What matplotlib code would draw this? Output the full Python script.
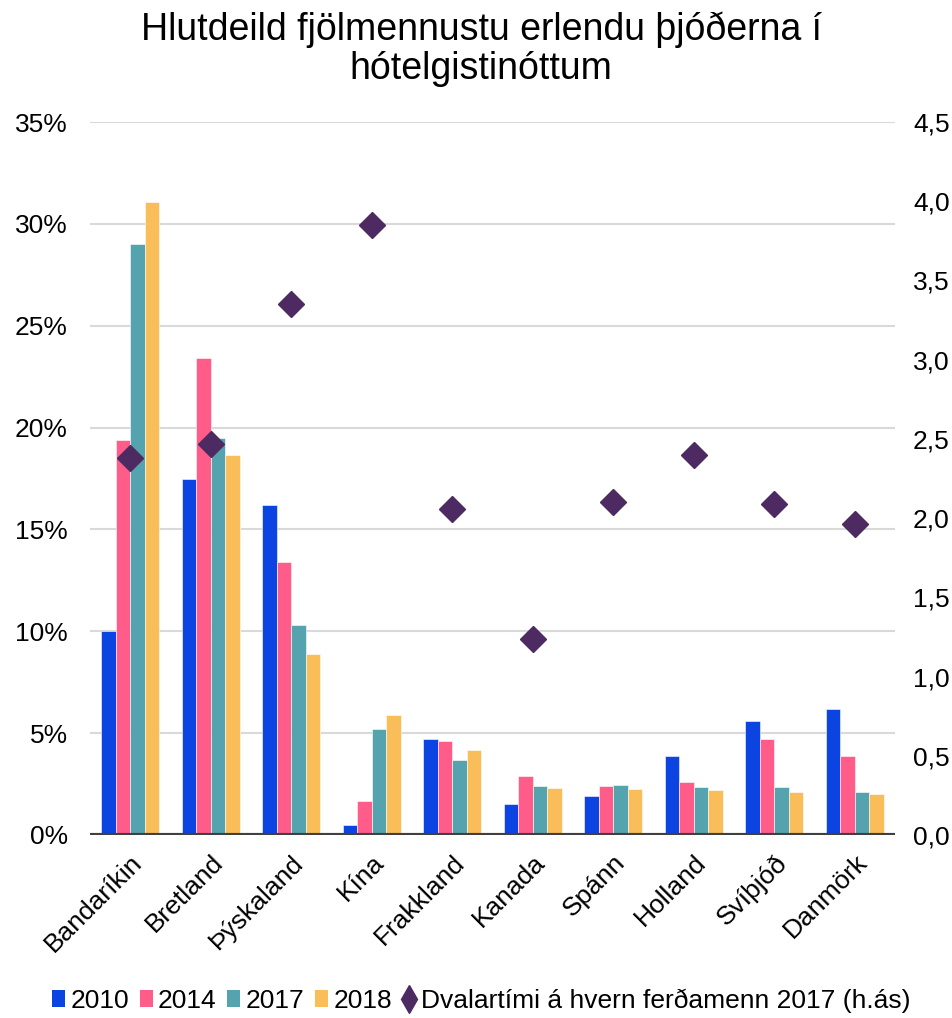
import matplotlib
matplotlib.use("Agg")
import matplotlib.pyplot as plt
import numpy as np
from matplotlib.ticker import FuncFormatter
from matplotlib.lines import Line2D
from matplotlib.patches import Patch

plt.rcParams['font.family'] = ['Liberation Sans', 'DejaVu Sans']

categories = ["Bandaríkin", "Bretland", "Þýskaland", "Kína", "Frakkland",
              "Kanada", "Spánn", "Holland", "Svíþjóð", "Danmörk"]
v2010 = [10.0, 17.5, 16.2, 0.5, 4.7, 1.5, 1.9, 3.9, 5.6, 6.2]
v2014 = [19.4, 23.4, 13.4, 1.65, 4.6, 2.9, 2.4, 2.6, 4.7, 3.9]
v2017 = [29.0, 19.5, 10.3, 5.2, 3.7, 2.4, 2.45, 2.35, 2.35, 2.1]
v2018 = [31.05, 18.65, 8.9, 5.9, 4.15, 2.3, 2.25, 2.2, 2.1, 2.0]
dvalartimi = [2.38, 2.47, 3.35, 3.85, 2.06, 1.24, 2.10, 2.40, 2.09, 1.96]

series = [("2010", v2010, "#0B44E0"), ("2014", v2014, "#FF5C8A"),
          ("2017", v2017, "#55A3AE"), ("2018", v2018, "#F9BE5A")]
diamond_color = "#4E2A62"
diamond_label = "Dvalartími á hvern ferðamenn 2017 (h.ás)"

fig = plt.figure(figsize=(9.53, 10.18), dpi=100)
ax = fig.add_axes([90/953, 1-835/1018, (895-90)/953, (835-122)/1018])
ax2 = ax.twinx()

x = np.arange(len(categories))
bw = 0.18
for i, (lab, vals, col) in enumerate(series):
    ax.bar(x + (i - 1.5) * bw, vals, bw, color=col, label=lab, zorder=2,
           edgecolor='white', linewidth=0.4)

ax2.plot(x, dvalartimi, linestyle='none', marker='D', markersize=13,
         color=diamond_color, zorder=3)

ax.set_xlim(-0.5, len(categories) - 0.5)
ax.set_ylim(0, 35)
ax.set_yticks(np.arange(0, 36, 5))
ax.yaxis.set_major_formatter(FuncFormatter(lambda v, p: f"{int(round(v))}%"))
ax2.set_ylim(0, 4.5)
ax2.set_yticks(np.arange(0, 4.51, 0.5))
ax2.yaxis.set_major_formatter(FuncFormatter(lambda v, p: f"{v:.1f}".replace('.', ',')))

ax.grid(axis='y', color='#D9D9D9', linewidth=1.5, zorder=0)
ax.set_axisbelow(True)
for a in (ax, ax2):
    for s in ('top', 'left', 'right', 'bottom'):
        a.spines[s].set_visible(False)
    a.tick_params(length=0, labelsize=19, colors='black')
ax.axhline(0, color='#404040', linewidth=3, zorder=4)

ax.tick_params(axis='y', pad=16)
ax2.tick_params(axis='y', pad=13)
ax.set_xticks(x)
ax.set_xticklabels(categories, rotation=45, ha='right', rotation_mode='anchor', fontsize=19)
ax.tick_params(axis='x', pad=11)

fig.suptitle("Hlutdeild fjölmennustu erlendu þjóðerna í\nhótelgistinóttum",
             fontsize=27, y=0.989, x=0.505, linespacing=1.12)

handles = [Patch(facecolor=c, label=l) for l, _, c in series]
handles.append(Line2D([], [], linestyle='none', marker='d', markersize=14,
                      color=diamond_color, label=diamond_label))
fig.legend(handles=handles, loc='lower center', bbox_to_anchor=(0.505, -0.018), ncol=5,
           frameon=False, fontsize=19, handlelength=0.5, handleheight=0.6,
           handletextpad=0.2, columnspacing=0.4)

fig.savefig("out.png", dpi=100)
